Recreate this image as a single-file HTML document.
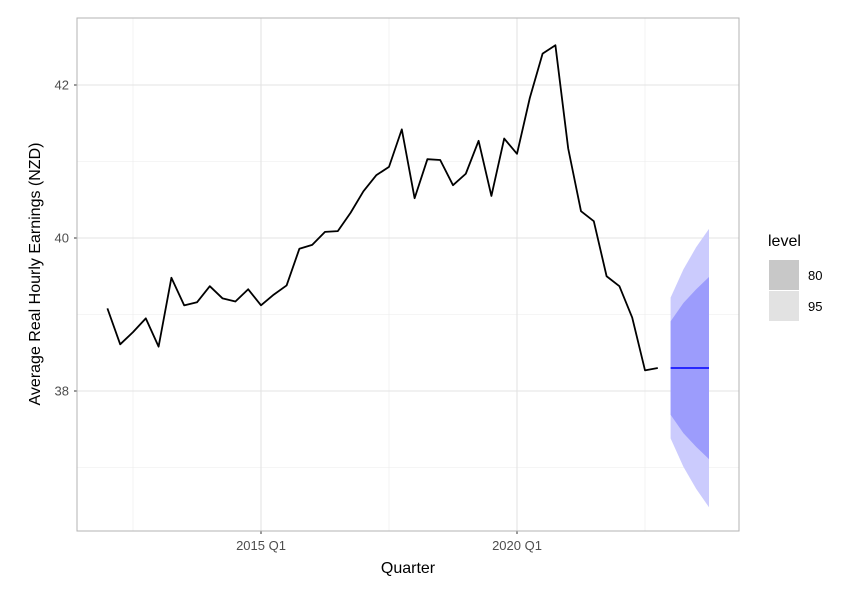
<!DOCTYPE html>
<html><head><meta charset="utf-8"><style>
body{margin:0;background:#fff;font-family:"Liberation Sans",Arial,sans-serif}
</style></head><body>
<svg id="c" width="843" height="593" xmlns="http://www.w3.org/2000/svg"></svg>
<script>
const values=[39.08,38.61,38.77,38.95,38.58,39.48,39.12,39.16,39.37,39.21,39.17,39.33,39.12,39.26,39.38,39.86,39.91,40.08,40.09,40.33,40.61,40.82,40.93,41.42,40.52,41.03,41.02,40.69,40.84,41.27,40.55,41.30,41.10,41.83,42.41,42.52,41.17,40.35,40.22,39.50,39.37,38.96,38.27,38.30];
const startQ=-12; // quarters relative to 2015 Q1
const fcMean=[38.3,38.3,38.3,38.3];
const fc80=[0.61,0.85,1.03,1.19];
const fc95=[0.92,1.29,1.58,1.82];
const yTicks=[38,40,42];
const yMinor=[37,39,41];
const xTickLabels=["2015 Q1","2020 Q1"];
const xTickQ=[0,20];
const xMinorQ=[-10,10,30];

const svg=document.getElementById('c');
const NS='http://www.w3.org/2000/svg';
const L=77,R=739,T=18,B=531;
const X=q=>261+q*12.8;
const Y=v=>238-(v-40)*76.5;
function mk(tag,attrs,parent){const e=document.createElementNS(NS,tag);for(const k in attrs)e.setAttribute(k,attrs[k]);(parent||svg).appendChild(e);return e;}
const bg=mk('rect',{x:L,y:T,width:R-L,height:B-T,fill:'#fff'});


yMinor.forEach(v=>{const l=mk('line',{x1:L,x2:R,y1:Y(v),y2:Y(v),stroke:'#ebebeb','stroke-width':0.6});});
xMinorQ.forEach(q=>{const l=mk('line',{x1:X(q),x2:X(q),y1:T,y2:B,stroke:'#ebebeb','stroke-width':0.6});});
yTicks.forEach(v=>{const l=mk('line',{x1:L,x2:R,y1:Y(v),y2:Y(v),stroke:'#e3e3e3','stroke-width':1.1});
 const t=mk('text',{x:L-8,y:Y(v)+4.5,'text-anchor':'end','font-size':13,fill:'#4d4d4d'});t.textContent=v;
 mk('line',{x1:L-3,x2:L,y1:Y(v),y2:Y(v),stroke:'#333','stroke-width':1});});
xTickQ.forEach((q,i)=>{const l=mk('line',{x1:X(q),x2:X(q),y1:T,y2:B,stroke:'#e3e3e3','stroke-width':1.1});
 const t=mk('text',{x:X(q),y:B+19,'text-anchor':'middle','font-size':13,fill:'#4d4d4d'});t.textContent=xTickLabels[i];
 mk('line',{x1:X(q),x2:X(q),y1:B,y2:B+3,stroke:'#333','stroke-width':1});});
const fq=startQ+values.length;
function band(w,fill,name){let up=[],dn=[];fcMean.forEach((m,i)=>{up.push(X(fq+i)+','+Y(m+w[i]));dn.unshift(X(fq+i)+','+Y(m-w[i]));});
 const p=mk('polygon',{points:up.concat(dn).join(' '),fill:fill});}
band(fc95,'#cbcbfd','forecast-95-interval');
band(fc80,'#9c9cfc','forecast-80-interval');
const ml=mk('polyline',{points:fcMean.map((m,i)=>X(fq+i)+','+Y(m)).join(' '),fill:'none',stroke:'#0000ff','stroke-width':1.5});


const line=mk('polyline',{points:values.map((v,i)=>X(startQ+i)+','+Y(v)).join(' '),fill:'none',stroke:'#000','stroke-width':1.8,'stroke-linejoin':'round'});


const bd=mk('rect',{x:L,y:T,width:R-L,height:B-T,fill:'none',stroke:'#b3b3b3','stroke-width':1});


const xt=mk('text',{x:(L+R)/2,y:573,'text-anchor':'middle','font-size':16,fill:'#000'});xt.textContent='Quarter';


const yt=mk('text',{x:0,y:0,'text-anchor':'middle','font-size':16,fill:'#000',transform:'translate(40,274) rotate(-90)'});yt.textContent='Average Real Hourly Earnings (NZD)';


const lt=mk('text',{x:768,y:246,'font-size':16,fill:'#000'});lt.textContent='level';


[['80','#c8c8c8',260],['95','#e2e2e2',291]].forEach(([lab,col,y])=>{
 const r=mk('rect',{x:769,y:y,width:30,height:30,fill:col});
 const t=mk('text',{x:808,y:y+20,'font-size':13,fill:'#000'});t.textContent=lab;});
</script>
</body></html>
